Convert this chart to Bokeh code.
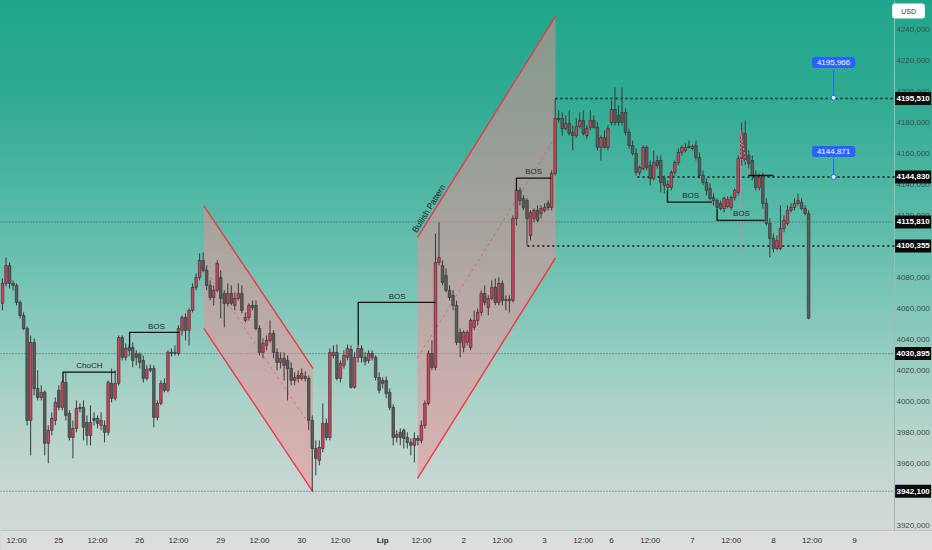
from bokeh.plotting import figure
from bokeh.models import ColumnDataSource, Label, Range1d
from bokeh.core.properties import value
from bokeh.embed import file_html
from bokeh.resources import INLINE

FONT = "Liberation Sans"

# ---------------- hourly candles (price) ----------------
opens = [4063.3, 4076.2, 4087.8, 4076.2, 4074.9, 4063.9, 4055.5, 4047.1, 3987.8, 4038.1,
         4008.4, 4002.6, 4005.9, 3973.0, 3981.4, 3987.8, 4007.2, 3996.2, 4012.3, 3992.3,
         3976.8, 3982.6, 3996.2, 3996.2, 3986.5, 3978.1, 3989.1, 3989.1, 3984.6, 3984.6,
         3980.1, 4011.7, 4002.0, 4011.7, 4041.3, 4028.5, 4034.9, 4034.9, 4031.0, 4030.4,
         4026.5, 4014.9, 4021.3, 4021.3, 3989.7, 3998.8, 4011.7, 4007.2, 4031.7, 4031.7,
         4031.0, 4045.9, 4054.2, 4045.9, 4058.8, 4073.6, 4080.0, 4091.0, 4084.6, 4074.9,
         4067.1, 4071.7, 4080.0, 4069.7, 4063.3, 4069.7, 4062.0, 4066.5, 4069.7, 4052.3,
         4054.2, 4062.0, 4062.0, 4047.1, 4031.7, 4036.2, 4039.4, 4043.9, 4031.7, 4025.2,
         4027.8, 4026.5, 4021.3, 4013.6, 4016.8, 4014.9, 4016.2, 4014.9, 3987.8, 3969.7,
         3962.0, 3969.7, 3985.9, 3976.8, 4029.7, 4031.7, 4014.9, 4023.3, 4028.5, 4033.6,
         4009.1, 4028.5, 4034.2, 4028.5, 4026.5, 4031.0, 4028.5, 4015.5, 4013.6, 4013.6,
         4005.9, 3996.2, 3976.8, 3980.1, 3981.4, 3976.8, 3973.6, 3971.7, 3976.2, 3974.9,
         3984.6, 3998.8, 4031.0, 4022.0, 4089.7, 4087.8, 4081.3, 4071.7, 4068.4, 4062.0,
         4044.6, 4034.9, 4038.1, 4034.9, 4047.8, 4052.3, 4057.5, 4069.7, 4060.7, 4066.5,
         4073.6, 4063.9, 4076.2, 4065.8, 4065.8, 4065.2, 4118.1, 4136.2, 4131.0, 4129.7,
         4107.1, 4118.1, 4123.3, 4121.3, 4123.3, 4127.8, 4125.2, 4147.1, 4182.6, 4182.6,
         4176.1, 4179.4, 4173.6, 4171.6, 4177.4, 4181.3, 4171.6, 4176.8, 4181.3, 4176.8,
         4163.9, 4170.3, 4163.9, 4180.0, 4188.4, 4184.5, 4186.5, 4186.5, 4173.6, 4165.2,
         4160.0, 4147.8, 4150.3, 4163.9, 4152.3, 4143.9, 4155.5, 4155.5, 4143.9, 4138.1,
         4138.1, 4147.8, 4154.2, 4160.7, 4162.0, 4164.5, 4163.2, 4165.2, 4157.4, 4145.8,
         4141.3, 4137.4, 4131.6, 4129.7, 4127.8, 4124.5, 4125.8, 4125.2, 4131.6, 4134.9,
         4156.8, 4172.9, 4158.7, 4155.5, 4145.8, 4138.1, 4145.8, 4127.8, 4114.9, 4105.2,
         4098.7, 4098.7, 4111.6, 4114.9, 4123.3, 4125.2, 4127.8, 4128.4, 4124.5, 4121.3]
highs = [4079.4, 4092.9, 4089.7, 4078.1, 4076.2, 4065.2, 4057.5, 4048.4, 4042.6, 4040.7,
         4020.1, 4010.4, 4007.2, 3984.6, 3993.0, 4002.6, 4010.4, 4013.6, 4018.8, 3994.3,
         3987.8, 4000.7, 3998.8, 4000.7, 3991.0, 3997.5, 3993.0, 3991.0, 3993.0, 3987.8,
         4013.6, 4021.3, 4020.1, 4042.6, 4042.6, 4037.5, 4036.8, 4038.1, 4033.0, 4031.7,
         4029.7, 4023.3, 4023.9, 4023.3, 4000.7, 4013.6, 4014.9, 4033.0, 4034.2, 4036.2,
         4049.1, 4055.5, 4056.8, 4060.0, 4076.2, 4082.6, 4095.5, 4096.2, 4087.8, 4078.1,
         4074.9, 4091.0, 4084.6, 4071.7, 4076.2, 4074.9, 4070.4, 4076.2, 4074.9, 4057.5,
         4063.3, 4065.2, 4065.2, 4049.1, 4040.7, 4042.6, 4052.3, 4045.9, 4034.2, 4031.7,
         4031.7, 4029.7, 4025.2, 4018.8, 4020.1, 4021.3, 4019.4, 4016.8, 3991.0, 3974.9,
         3974.9, 3998.8, 3989.1, 4034.2, 4036.2, 4036.8, 4026.5, 4033.0, 4036.8, 4036.2,
         4031.7, 4036.2, 4036.2, 4031.7, 4033.0, 4033.0, 4029.7, 4018.8, 4015.5, 4016.2,
         4008.4, 3998.1, 3981.4, 3982.6, 3982.6, 3980.1, 3976.2, 3980.1, 3978.1, 3987.8,
         4000.7, 4033.0, 4039.4, 4108.4, 4115.5, 4091.0, 4085.8, 4074.9, 4071.7, 4065.2,
         4047.1, 4045.9, 4045.9, 4053.6, 4058.8, 4060.0, 4071.7, 4074.9, 4068.4, 4078.1,
         4079.4, 4080.0, 4078.1, 4068.4, 4068.4, 4120.0, 4137.4, 4138.1, 4132.9, 4131.0,
         4123.3, 4124.5, 4126.5, 4126.5, 4127.8, 4129.7, 4149.1, 4195.5, 4187.8, 4186.5,
         4184.5, 4187.8, 4178.1, 4182.6, 4186.5, 4187.8, 4178.1, 4187.8, 4184.5, 4180.0,
         4171.6, 4174.9, 4178.1, 4194.2, 4202.6, 4191.0, 4202.6, 4189.0, 4176.1, 4168.4,
         4163.2, 4152.3, 4165.2, 4165.2, 4155.5, 4162.0, 4158.7, 4158.7, 4145.8, 4142.6,
         4149.1, 4155.5, 4163.2, 4165.2, 4166.5, 4168.4, 4165.8, 4168.4, 4160.7, 4149.1,
         4143.9, 4140.7, 4134.2, 4131.0, 4129.7, 4132.3, 4132.3, 4132.9, 4137.4, 4158.7,
         4180.0, 4181.3, 4162.0, 4158.7, 4149.1, 4147.1, 4147.8, 4131.0, 4118.1, 4108.4,
         4107.1, 4126.5, 4120.0, 4126.5, 4127.8, 4131.0, 4134.2, 4131.0, 4126.5, 4123.3]
lows = [4058.8, 4074.2, 4072.9, 4071.7, 4062.0, 4053.6, 4045.9, 3984.6, 3965.2, 4003.9,
        4000.7, 4000.7, 3965.2, 3960.1, 3978.1, 3984.6, 3994.3, 3994.3, 3987.8, 3974.9,
        3963.3, 3980.1, 3993.0, 3974.9, 3971.7, 3971.7, 3984.6, 3982.6, 3981.4, 3973.6,
        3978.1, 3999.4, 4000.7, 4010.4, 4026.5, 4026.5, 4029.1, 4022.0, 4023.3, 4021.3,
        4012.3, 4013.6, 4018.8, 3983.3, 3987.8, 3997.5, 4005.9, 4005.9, 4029.1, 4029.7,
        4029.7, 4042.6, 4039.4, 4036.2, 4057.5, 4071.7, 4078.1, 4083.3, 4071.7, 4065.2,
        4062.0, 4070.4, 4053.6, 4047.8, 4061.3, 4062.0, 4058.8, 4065.2, 4056.8, 4051.0,
        4052.3, 4058.8, 4045.9, 4029.7, 4027.8, 4033.0, 4038.1, 4027.8, 4020.1, 4021.3,
        4013.6, 4000.7, 4010.4, 4010.4, 4012.3, 4013.6, 4013.0, 3981.4, 3942.1, 3952.3,
        3958.8, 3967.2, 3974.9, 3974.9, 4027.8, 4013.6, 4012.3, 4021.3, 4026.5, 4008.4,
        4008.4, 4025.2, 4025.2, 4023.3, 4024.6, 4026.5, 4013.6, 4005.2, 4008.4, 4002.0,
        3994.3, 3971.7, 3973.6, 3971.7, 3969.7, 3969.7, 3965.2, 3960.7, 3971.7, 3973.0,
        3982.6, 3997.5, 4020.1, 4020.1, 4087.8, 4074.9, 4070.4, 4065.2, 4058.8, 4036.2,
        4028.5, 4031.7, 4036.2, 4033.0, 4045.9, 4049.1, 4055.5, 4062.0, 4055.5, 4065.2,
        4062.0, 4062.0, 4062.0, 4058.8, 4057.5, 4063.9, 4113.6, 4126.5, 4123.3, 4100.7,
        4103.9, 4115.5, 4115.5, 4118.1, 4122.0, 4123.3, 4123.3, 4145.8, 4180.0, 4171.6,
        4174.9, 4171.6, 4162.0, 4170.3, 4176.1, 4171.6, 4169.7, 4174.9, 4176.1, 4162.0,
        4155.5, 4163.2, 4162.0, 4178.1, 4178.1, 4178.1, 4178.1, 4171.6, 4163.2, 4158.7,
        4145.8, 4145.8, 4149.1, 4149.1, 4139.4, 4142.6, 4150.3, 4134.9, 4134.2, 4136.2,
        4136.2, 4145.8, 4152.3, 4158.7, 4160.7, 4163.2, 4162.0, 4155.5, 4143.9, 4139.4,
        4132.9, 4129.7, 4126.5, 4123.3, 4123.3, 4122.0, 4124.5, 4123.3, 4129.7, 4132.9,
        4152.3, 4152.3, 4150.3, 4142.6, 4136.2, 4136.2, 4124.5, 4113.6, 4092.9, 4096.2,
        4097.5, 4097.5, 4109.1, 4113.6, 4122.0, 4123.3, 4126.5, 4123.3, 4120.0, 4053.0]
closes = [4076.2, 4087.8, 4076.2, 4074.9, 4063.9, 4055.5, 4047.1, 3987.8, 4038.1, 4008.4,
          4002.6, 4005.9, 3973.0, 3981.4, 3989.1, 3999.4, 3996.2, 4012.3, 3991.0, 3976.8,
          3982.6, 3995.5, 3995.5, 3983.3, 3978.1, 3986.5, 3987.8, 3985.9, 3987.8, 3980.1,
          4012.3, 4002.0, 4011.7, 4041.3, 4028.5, 4034.2, 4033.0, 4026.5, 4028.5, 4025.2,
          4014.9, 4020.7, 4020.1, 3989.7, 3998.8, 4011.7, 4007.2, 4031.7, 4031.0, 4031.0,
          4047.1, 4054.2, 4045.9, 4058.8, 4073.6, 4080.0, 4091.0, 4084.6, 4074.9, 4067.1,
          4071.7, 4089.1, 4066.5, 4063.3, 4069.7, 4063.3, 4066.5, 4069.7, 4058.8, 4054.2,
          4062.0, 4060.7, 4047.1, 4031.7, 4037.5, 4039.4, 4043.9, 4031.7, 4025.2, 4027.8,
          4023.3, 4021.3, 4013.6, 4015.5, 4014.9, 4018.1, 4014.9, 3987.8, 3969.7, 3963.3,
          3970.4, 3985.9, 3976.8, 4031.7, 4031.7, 4014.9, 4024.6, 4029.7, 4034.2, 4009.1,
          4028.5, 4034.2, 4028.5, 4025.9, 4031.0, 4028.5, 4015.5, 4007.2, 4011.7, 4005.2,
          3996.2, 3976.8, 3978.7, 3976.8, 3976.2, 3973.6, 3971.7, 3976.2, 3974.9, 3984.6,
          3998.8, 4031.0, 4022.0, 4089.7, 4092.9, 4076.8, 4071.7, 4067.1, 4062.0, 4038.1,
          4038.1, 4044.6, 4044.6, 4052.3, 4052.3, 4057.5, 4069.7, 4063.9, 4066.5, 4073.6,
          4063.9, 4076.2, 4065.2, 4065.2, 4065.2, 4118.1, 4136.2, 4129.7, 4125.2, 4118.1,
          4122.0, 4123.3, 4116.8, 4124.5, 4125.2, 4125.2, 4147.1, 4182.6, 4181.9, 4176.1,
          4179.4, 4172.9, 4171.6, 4177.4, 4181.3, 4172.9, 4176.1, 4181.3, 4176.8, 4163.9,
          4170.3, 4163.9, 4176.1, 4188.4, 4180.0, 4180.0, 4180.0, 4173.6, 4165.2, 4160.0,
          4147.8, 4151.0, 4163.9, 4151.0, 4143.9, 4154.2, 4152.3, 4141.3, 4139.4, 4140.0,
          4147.8, 4154.2, 4160.7, 4163.9, 4163.9, 4163.9, 4164.5, 4157.4, 4145.8, 4141.3,
          4136.2, 4131.0, 4129.7, 4125.2, 4124.5, 4131.0, 4130.3, 4131.6, 4136.2, 4156.8,
          4173.6, 4155.5, 4153.6, 4145.8, 4138.1, 4144.6, 4127.8, 4114.9, 4105.2, 4098.7,
          4103.9, 4111.6, 4116.8, 4123.3, 4125.2, 4127.8, 4129.7, 4124.5, 4121.3, 4053.6]

# ---------------- axes (time ticks at candle index, price ticks) ----------------
time_ticks = [4, 16, 27, 39, 50, 62, 73, 85, 96, 108, 119, 131, 142, 154, 165, 173, 184, 196, 207, 219, 230, 242]
time_labels = ["12:00", "25", "12:00", "26", "12:00", "29", "12:00", "30", "12:00", "Lip", "12:00",
               "2", "12:00", "3", "12:00", "6", "12:00", "7", "12:00", "8", "12:00", "9"]
price_ticks = [3920, 3940, 3960, 3980, 4000, 4020, 4040, 4060, 4080, 4100, 4120, 4140, 4160, 4180, 4200, 4220, 4240]
price_labels = ["3920,000", "3940,000", "3960,000", "3980,000", "4000,000", "4020,000", "4040,000",
                "4060,000", "4080,000", "4100,000", "4120,000", "4140,000", "4160,000", "4180,000",
                "4200,000", "4220,000", "4240,000"]

# ---------------- levels ----------------
strong_levels = [4195.510, 4144.830, 4100.355]
strong_start = [157.1, 180.4, 149.1]
light_levels = [4115.810, 4030.895, 3942.100]
box_levels = [4195.510, 4144.830, 4115.810, 4100.355, 4030.895, 3942.100]
box_labels = ["4195,510", "4144,830", "4115,810", "4100,355", "4030,895", "3942,100"]

alert_values = [4195.966, 4144.871]
alert_labels = ["4195,966", "4144,871"]
alert_label_y = [4218.7, 4161.3]
alert_x = 236.1

# ---------------- channels ----------------
down_ch_x = [57.2, 88.2, 88.2, 57.2]
down_ch_y = [4126.2, 4021.3, 3941.7, 4047.1]
up_ch_x = [117.9, 157.1, 157.1, 117.9]
up_ch_y = [4105.8, 4248.4, 4092.6, 3950.4]

# ---------------- structure marks ----------------
struct_xs = [[17.2, 17.2, 32.1], [36.1, 36.1, 50.3], [101.05, 101.05, 123.0],
             [146.0, 146.0, 155.9], [188.9, 188.9, 201.6], [203.0, 203.0, 216.5], [211.9, 219.0]]
struct_ys = [[4012.5, 4018.95, 4018.95], [4035.1, 4044.6, 4044.6], [4036.2, 4063.9, 4063.9],
             [4136.2, 4144.1, 4144.1], [4136.2, 4128.6, 4128.6], [4123.9, 4116.8, 4116.8],
             [4145.8, 4145.8]]
struct_text = ["ChoCH", "BOS", "BOS", "BOS", "BOS", "BOS"]
struct_tx = [24.7, 43.7, 112.1, 150.9, 195.5, 209.9]
struct_ty = [4023.3, 4048.4, 4067.8, 4148.6, 4132.9, 4121.5]

# ---------------- figure: the whole canvas is the frame; price/time scales drawn inside ----------------
XR0, XR1 = -0.568, 264.2       # candle-index range over the full width
YR0, YR1 = 3903.85, 4258.7     # price range over the full height
AXIS_X = 253.4                 # start of the price-scale strip
AXIS_Y = 3916.8                # top of the time-scale strip
PLABEL_X = 258.7               # centre of price-scale labels
TLABEL_Y = 3910.4              # centre of time-scale labels

p = figure(width=932, height=550, x_range=Range1d(XR0, XR1), y_range=Range1d(YR0, YR1),
           output_backend="svg", toolbar_location=None, x_axis_location=None, y_axis_location=None,
           min_border=0)
p.background_fill_alpha = 0
p.border_fill_alpha = 0
p.outline_line_color = None
p.grid.visible = False
p.styles = {"background": "linear-gradient(to bottom, #1fa68a 0px, #31ab93 100px, #52b8a4 200px, "
                          "#7dc6b8 300px, #aad2c8 400px, #cdd8d5 500px, #d3d9d7 530px, #d3d9d7 550px)"}

# time-scale strip
p.quad(left=[XR0], right=[XR1], bottom=[YR0], top=[AXIS_Y], fill_color="#dcdddd", line_color=None)
p.line([XR0, XR1], [AXIS_Y, AXIS_Y], line_color="#bfc5c3", line_width=1)
p.line([AXIS_X, AXIS_X], [AXIS_Y, YR1], line_color="#9fb9b3", line_width=1)

# light dotted levels (full width)
for lv in light_levels:
    p.line([XR0, AXIS_X], [lv, lv], line_color="#2c3b39", line_alpha=0.75, line_width=1, line_dash="1 2")

# channels
p.patch(down_ch_x, down_ch_y, fill_color="#f08c94", fill_alpha=0.5, line_color=None)
p.patch(up_ch_x, up_ch_y, fill_color="#f08c94", fill_alpha=0.5, line_color=None)
for cx, cy in ((down_ch_x, down_ch_y), (up_ch_x, up_ch_y)):
    p.line([cx[0], cx[1]], [cy[0], cy[1]], line_color="#f23645", line_width=1.4)
    p.line([cx[3], cx[2]], [cy[3], cy[2]], line_color="#f23645", line_width=1.4)
    p.line([cx[0], cx[1]], [(cy[0] + cy[3]) / 2, (cy[1] + cy[2]) / 2], line_color="#f23645",
           line_alpha=0.5, line_width=1, line_dash="3 3")

# strong dotted levels
for lv, st in zip(strong_levels, strong_start):
    p.line([st, AXIS_X], [lv, lv], line_color="#111111", line_width=1.5, line_dash="2 3")

# candles
src = ColumnDataSource(dict(
    x=list(range(len(opens))), o=opens, h=highs, l=lows, c=closes,
    top=[max(a, b) for a, b in zip(opens, closes)],
    bot=[min(a, b) for a, b in zip(opens, closes)],
    col=["#df3d58" if c >= o else "#5c5c5c" for o, c in zip(opens, closes)],
))
p.segment(x0="x", y0="h", x1="x", y1="l", source=src, line_color="#3a3a3a", line_width=1)
p.vbar(x="x", width=0.72, top="top", bottom="bot", source=src, fill_color="col",
       line_color="#363636", line_width=0.7)

# pink marks
p.line([209.7, 209.7], [4174.85, 4096.2], line_color="#ff6fa0", line_width=1.2, line_dash="2 2")
p.line([209.7, 211.9], [4173.6, 4145.2], line_color="#ff6fa0", line_width=1.2, line_dash="2 2")

# structure lines & texts
p.multi_line(struct_xs, struct_ys, line_color="#111111", line_width=1.3)
p.text(x=struct_tx, y=struct_ty, text=struct_text, text_font=value(FONT), text_font_size="8px",
       text_color="#1d2b29", text_align="center", text_baseline="middle")
p.text(x=[121.1], y=[4124.5], text=["Bullish Pattern"], angle=1.012, text_font=value(FONT),
       text_font_size="8.5px", text_color="#1a1a1a", text_align="center", text_baseline="middle")

# alerts
for av, al, ly in zip(alert_values, alert_labels, alert_label_y):
    p.line([alert_x, alert_x], [ly - 4.5, av], line_color="#2962ff", line_width=1)
    p.scatter([alert_x], [av], size=5, fill_color="#dfe9ff", line_color="#2962ff", line_width=1)
    p.add_layout(Label(x=alert_x, y=ly, text=al, text_font=FONT, text_font_size="8px",
                       text_color="white", text_align="center", text_baseline="middle",
                       background_fill_color="#2962ff", border_radius=3, padding=(5, 3)))

# price scale labels
p.text(x=[PLABEL_X] * len(price_ticks), y=price_ticks, text=price_labels, text_font=value(FONT),
       text_font_size="8px", text_color="#3f4d4b", text_align="center", text_baseline="middle")
# time scale labels
reg = [i for i, l in enumerate(time_labels) if l != "Lip"]
p.text(x=[time_ticks[i] for i in reg], y=[TLABEL_Y] * len(reg), text=[time_labels[i] for i in reg],
       text_font=value(FONT), text_font_size="8px", text_color="#2f2f2f",
       text_align="center", text_baseline="middle")
bold = [i for i, l in enumerate(time_labels) if l == "Lip"]
p.text(x=[time_ticks[i] for i in bold], y=[TLABEL_Y] * len(bold), text=[time_labels[i] for i in bold],
       text_font=value(FONT), text_font_size="8px", text_font_style="bold", text_color="#2f2f2f",
       text_align="center", text_baseline="middle")

# price boxes on the scale
p.rect(x=[PLABEL_X] * len(box_levels), y=box_levels, width=36, height=13, width_units="screen",
       height_units="screen", fill_color="#0b0b0b", line_color=None)
p.text(x=[PLABEL_X] * len(box_levels), y=box_levels, text=box_labels, text_font=value(FONT),
       text_font_size="8px", text_font_style="bold", text_color="white", text_align="center",
       text_baseline="middle")

p.add_layout(Label(x=257.4, y=4251.9, text="USD", text_font=FONT, text_font_size="7px",
                   text_color="#333333", text_align="center", text_baseline="middle",
                   background_fill_color="white", border_radius=3, padding=(9, 4)))

open("out.html", "w").write(file_html(p, INLINE))
